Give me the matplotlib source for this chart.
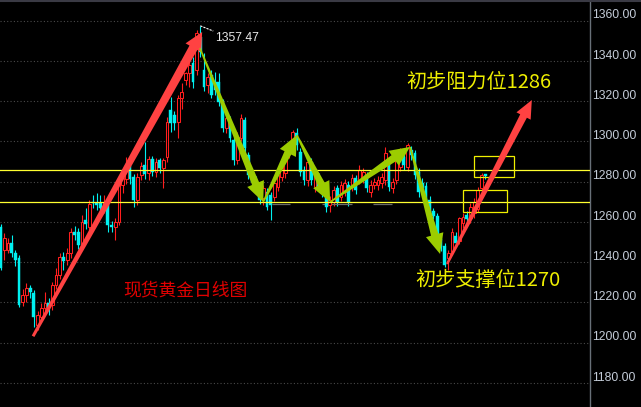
import matplotlib
matplotlib.use('Agg')
import matplotlib.pyplot as plt
from matplotlib.patches import Polygon, Rectangle
from matplotlib.lines import Line2D
import matplotlib.transforms as mtransforms
import numpy as np

# ---------------- data (daily OHLC, spot gold) ----------------
opens = [
    1257.6, 1246.1, 1246.1, 1249.4, 1244.4, 1241.9, 1220.4, 1223.7, 1227.0, 1224.9,
    1208.8, 1213.0, 1217.1, 1219.6, 1218.7, 1228.7, 1233.6, 1242.4, 1241.1, 1244.4,
    1255.2, 1255.2, 1248.5, 1261.0, 1257.6, 1270.1, 1269.3, 1269.3, 1266.8, 1268.4,
    1258.5, 1257.6, 1260.1, 1278.4, 1281.2, 1288.0, 1282.2, 1270.9, 1283.3, 1288.3,
    1284.2, 1291.1, 1285.0, 1290.8, 1286.6, 1292.1, 1315.6, 1313.1, 1309.8, 1321.4,
    1330.5, 1333.8, 1339.1, 1335.5, 1352.1, 1335.5, 1328.1, 1333.0, 1329.7, 1329.7,
    1319.8, 1306.5, 1310.7, 1300.7, 1290.8, 1301.5, 1310.7, 1293.3, 1285.0, 1280.9,
    1277.5, 1271.7, 1275.0, 1273.4, 1272.6, 1277.5, 1282.5, 1284.2, 1294.1, 1296.6,
    1304.0, 1294.9, 1285.8, 1280.9, 1290.0, 1277.5, 1282.5, 1278.4, 1273.4, 1268.4,
    1270.1, 1276.7, 1272.6, 1275.0, 1278.4, 1277.5, 1281.7, 1280.9, 1281.7, 1283.3,
    1275.0, 1278.4, 1278.4, 1279.2, 1280.9, 1289.1, 1276.7, 1280.9, 1287.5, 1292.4,
    1287.5, 1295.8, 1294.1, 1285.0, 1279.5, 1278.0, 1271.0, 1265.5, 1263.0, 1251.5,
    1248.0, 1242.0, 1245.2, 1253.0, 1250.5, 1259.3, 1263.5, 1261.8, 1264.3, 1266.5,
    1276.8, 1283.6]
highs = [
    1259.0, 1254.3, 1252.0, 1253.5, 1246.1, 1243.5, 1226.5, 1229.5, 1228.7, 1226.0,
    1216.0, 1219.5, 1225.4, 1222.0, 1230.0, 1237.0, 1244.4, 1245.2, 1246.9, 1257.0,
    1258.0, 1257.0, 1263.5, 1266.8, 1270.9, 1273.4, 1274.2, 1273.4, 1273.4, 1271.0,
    1260.5, 1262.0, 1281.0, 1284.0, 1292.4, 1290.0, 1284.0, 1284.5, 1290.0, 1299.9,
    1293.0, 1292.8, 1292.0, 1292.0, 1292.0, 1312.3, 1322.3, 1315.0, 1323.0, 1328.9,
    1334.7, 1342.1, 1342.1, 1355.4, 1357.47, 1343.8, 1334.0, 1335.5, 1334.7, 1333.8,
    1321.0, 1313.5, 1312.5, 1302.0, 1304.5, 1313.5, 1312.3, 1295.0, 1287.0, 1283.0,
    1279.0, 1278.5, 1277.0, 1275.0, 1281.5, 1285.0, 1289.5, 1296.0, 1299.5, 1305.7,
    1306.5, 1297.0, 1288.0, 1292.0, 1292.0, 1286.5, 1284.5, 1280.5, 1275.5, 1273.0,
    1278.0, 1278.5, 1280.5, 1281.5, 1280.5, 1284.0, 1283.5, 1288.3, 1287.0, 1285.0,
    1281.0, 1282.0, 1283.0, 1284.5, 1297.4, 1291.0, 1282.0, 1293.5, 1297.0, 1294.5,
    1299.1, 1297.7, 1296.0, 1287.0, 1282.0, 1280.0, 1273.0, 1267.0, 1264.5, 1253.0,
    1249.5, 1246.0, 1257.0, 1255.0, 1262.6, 1264.5, 1265.5, 1269.5, 1272.0, 1277.5,
    1284.2, 1284.0]
lows = [
    1236.0, 1241.1, 1244.4, 1242.8, 1238.0, 1217.5, 1218.0, 1220.0, 1222.0, 1208.0,
    1206.5, 1211.0, 1215.0, 1214.0, 1216.5, 1226.5, 1231.5, 1236.0, 1238.5, 1242.0,
    1251.0, 1246.5, 1246.0, 1256.5, 1255.5, 1267.0, 1266.0, 1263.5, 1264.5, 1255.2,
    1255.2, 1251.0, 1258.5, 1274.2, 1279.0, 1279.0, 1267.6, 1268.5, 1281.0, 1281.5,
    1281.0, 1283.0, 1282.5, 1284.5, 1276.7, 1290.0, 1304.9, 1305.7, 1301.5, 1316.0,
    1328.0, 1327.2, 1326.4, 1333.0, 1342.0, 1325.0, 1323.9, 1321.4, 1323.0, 1317.5,
    1304.9, 1304.0, 1299.5, 1288.3, 1289.0, 1300.0, 1294.5, 1281.5, 1278.0, 1274.0,
    1269.0, 1268.4, 1265.9, 1261.0, 1270.5, 1275.5, 1280.5, 1282.0, 1292.0, 1294.5,
    1296.0, 1283.0, 1278.5, 1278.0, 1278.5, 1275.0, 1275.5, 1272.5, 1265.1, 1265.1,
    1268.0, 1268.0, 1270.5, 1273.0, 1268.0, 1275.5, 1274.0, 1279.0, 1279.5, 1275.0,
    1272.5, 1276.5, 1276.0, 1277.0, 1278.5, 1275.5, 1274.5, 1279.0, 1285.5, 1286.0,
    1285.5, 1291.0, 1281.5, 1272.5, 1275.0, 1269.0, 1263.5, 1261.5, 1249.5, 1245.5,
    1237.5, 1236.3, 1243.5, 1247.5, 1249.0, 1257.0, 1259.5, 1259.5, 1262.0, 1265.0,
    1275.0, 1281.5]
closes = [
    1237.0, 1251.9, 1249.4, 1244.4, 1241.1, 1218.7, 1223.7, 1227.0, 1225.4, 1213.0,
    1213.8, 1217.1, 1219.6, 1217.1, 1228.7, 1233.6, 1242.8, 1240.8, 1244.4, 1255.2,
    1253.5, 1248.5, 1260.1, 1259.0, 1268.9, 1269.3, 1268.4, 1266.8, 1270.1, 1258.5,
    1257.3, 1260.1, 1279.2, 1281.7, 1288.8, 1281.3, 1270.9, 1282.5, 1288.0, 1283.8,
    1291.1, 1285.0, 1290.0, 1286.6, 1290.8, 1309.8, 1309.0, 1309.0, 1321.4, 1324.7,
    1333.8, 1338.0, 1329.7, 1353.7, 1344.6, 1327.2, 1332.2, 1323.1, 1325.6, 1319.8,
    1306.5, 1311.5, 1301.5, 1290.8, 1302.4, 1311.5, 1296.6, 1283.3, 1280.0, 1275.9,
    1270.9, 1276.7, 1267.6, 1268.4, 1279.2, 1283.3, 1287.5, 1294.1, 1297.4, 1304.9,
    1298.2, 1285.0, 1280.9, 1290.0, 1280.9, 1284.2, 1277.5, 1275.0, 1267.6, 1270.9,
    1275.9, 1270.1, 1278.4, 1279.2, 1270.1, 1281.7, 1275.9, 1285.8, 1285.0, 1276.7,
    1278.4, 1280.0, 1280.9, 1282.5, 1294.1, 1277.5, 1280.0, 1291.6, 1294.9, 1288.3,
    1298.2, 1293.3, 1283.3, 1275.0, 1277.0, 1270.5, 1265.0, 1263.0, 1251.0, 1247.5,
    1238.5, 1244.5, 1255.2, 1249.5, 1261.8, 1262.6, 1261.5, 1267.6, 1270.1, 1276.0,
    1283.3, 1282.8]

price_ticks = [1180, 1200, 1220, 1240, 1260, 1280, 1300, 1320, 1340, 1360]
tick_labels = ['1180.00', '1200.00', '1220.00', '1240.00', '1260.00',
               '1280.00', '1300.00', '1320.00', '1340.00', '1360.00']
levels = [1286, 1270]                      # resistance / support lines
peak_value = 1357.47

# annotation arrows: (x0, y0, x1, y1) in (bar index, price)
red_arrows = [(8.8, 1203.2, 54.5, 1354.4), (120.7, 1239.1, 143.6, 1320.6)]
green_arrows = [(53.9, 1346.4, 71.0, 1269.9), (71.0, 1269.9, 80.1, 1303.2),
                (80.1, 1303.2, 89.1, 1269.9), (89.1, 1269.9, 110.7, 1297.3),
                (110.7, 1297.3, 118.8, 1244.1)]
boxes = [(128.1, 1282.2, 138.9, 1292.7), (125.1, 1265.1, 136.8, 1275.9)]
grey_marks_x0 = [73.4, 86.9, 100.7]
grey_marks_x1 = [78.3, 95.0, 105.8]

# ---------------- figure ----------------
W, H = 641, 407
fig = plt.figure(figsize=(W / 100, H / 100), dpi=100, facecolor='black')
ax = fig.add_axes([0, 0, 590 / W, 1])
ax.set_facecolor('black')
step = 3.7
ax.set_xlim(-0.5 / step, (590 - 0.5) / step)
ax.set_ylim(1168.05, 1370.3)
ax.set_xticks([])
ax.set_yticks([])
for s in ['left', 'top', 'bottom']:
    ax.spines[s].set_visible(False)
ax.spines['right'].set_color('#687078')
ax.spines['right'].set_linewidth(1.0)

# grid
for p in price_ticks:
    ax.axhline(p, color='#4a4a4a', lw=0.8, ls=(0, (1, 2)), zorder=0)

# tick labels (sit slightly above their grid lines)
off = mtransforms.ScaledTranslation(2.0 / 100, 2.4 / 100, fig.dpi_scale_trans)
tr = mtransforms.blended_transform_factory(ax.transAxes, ax.transData) + off
for p, lab in zip(price_ticks, tick_labels):
    ax.text(1.0, p, lab, transform=tr, ha='left', va='baseline',
            color='#c4ccd8', fontsize=8.7, family='Liberation Sans')

# candles
bw = 2.8 / step
up_c, dn_c = '#ff1e1e', '#00f0f0'
for i, (o, h, l, c) in enumerate(zip(opens, highs, lows, closes)):
    col = up_c if c >= o else dn_c
    ax.vlines(i, l, h, color=col, lw=0.8, zorder=2)
    bot, top = min(o, c), max(o, c)
    hgt = max(top - bot, 0.5)
    if c >= o:
        ax.add_patch(Rectangle((i - bw / 2, bot), bw, hgt, facecolor='black',
                               edgecolor=col, lw=0.75, zorder=3))
    else:
        ax.add_patch(Rectangle((i - bw / 2, bot), bw, hgt, facecolor=col,
                               edgecolor=col, lw=0.3, zorder=3))

# faint grey marks just below the support line
ax.hlines([1268.9] * len(grey_marks_x0), grey_marks_x0, grey_marks_x1,
          color='#6a6a6a', lw=0.9, zorder=2.5)

# support / resistance lines
for lv in levels:
    ax.axhline(lv, color='#ffff30', lw=0.9, zorder=4)

# boxes
for (x0, y0, x1, y1) in boxes:
    ax.add_patch(Rectangle((x0, y0), x1 - x0, y1 - y0, fill=False,
                           edgecolor='#f0f000', lw=0.9, zorder=4))

# peak marker
ipk = int(np.argmax(highs))
ax.plot([ipk, ipk + 3.5], [highs[ipk], highs[ipk] - 2.6], color='white',
        lw=0.8, ls=(0, (2, 1)), zorder=6)
ax.text(58.0, 1351.3, f'{peak_value:.2f}', color='#e8e8e8', fontsize=8.7,
        family='Liberation Sans', va='center', ha='left', zorder=7)


def tapered_arrow(x0, y0, x1, y1, w0, w1, hw, hl, color):
    T = ax.transData
    p0 = T.transform((x0, y0))
    p1 = T.transform((x1, y1))
    d = p1 - p0
    L = np.hypot(*d)
    u = d / L
    n = np.array([-u[1], u[0]])
    b = p1 - u * hl
    pts = [p0 + n * w0 / 2, b + n * w1 / 2, b + n * hw / 2, p1,
           b - n * hw / 2, b - n * w1 / 2, p0 - n * w0 / 2]
    data = T.inverted().transform(np.array(pts))
    ax.add_patch(Polygon(data, closed=True, fc=color, ec='none', zorder=5))


tapered_arrow(*red_arrows[0], 3.0, 9.0, 18.0, 18.0, '#ff4242')
tapered_arrow(*red_arrows[1], 2.5, 7.5, 16.0, 18.0, '#ff4242')
for ga in green_arrows:
    tapered_arrow(*ga, 1.5, 7.5, 18.0, 20.0, '#9ccc00')

cjk = ['Noto Sans CJK SC', 'DejaVu Sans']
ax.text(109.6, 1329.3, '初步阻力位1286', color='#eeee00', fontsize=14.5,
        family=cjk, va='center', ha='left', zorder=7)
ax.text(112.0, 1230.7, '初步支撑位1270', color='#eeee00', fontsize=14.5,
        family=cjk, va='center', ha='left', zorder=7)
ax.text(33.1, 1226.2, '现货黄金日线图', color='#e00000', fontsize=12.8,
        family=cjk, va='center', ha='left', zorder=7)

# thin top border
fig.add_artist(Line2D([0, 1], [1 - 1.0 / H, 1 - 1.0 / H], color='#3a3a44',
                      lw=1.5, transform=fig.transFigure))

fig.savefig('out.png', dpi=100, facecolor='black')
